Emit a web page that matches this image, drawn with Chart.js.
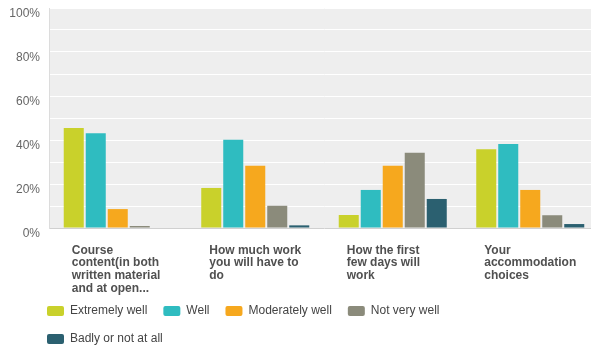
<!DOCTYPE html>
<html>
<head>
<meta charset="utf-8">
<script src="https://cdn.jsdelivr.net/npm/chart.js@4.4.1/dist/chart.umd.min.js"></script>
<style>
  html, body { margin: 0; padding: 0; background: #ffffff; overflow: hidden; }
  #wrap { width: 600px; height: 346px; }
</style>
</head>
<body>
<div id="wrap"><canvas id="chart" width="600" height="346"></canvas></div>
<script>
// Survey question categories (each entry holds the wrapped label lines)
const categories = [
  ['Course', 'content(in both', 'written material', 'and at open...'],
  ['How much work', 'you will have to', 'do'],
  ['How the first', 'few days will', 'work'],
  ['Your', 'accommodation', 'choices']
];

// Share of respondents per answer, in percent
const extremelyWell   = [45.5, 18.2, 5.9, 35.8];
const well            = [43.1, 40.1, 17.3, 38.2];
const moderatelyWell  = [8.6, 28.3, 28.3, 17.3];
const notVeryWell     = [0.9, 10.1, 34.2, 5.8];
const badlyOrNotAtAll = [0, 1.2, 13.2, 1.8];

const seriesNames = ['Extremely well', 'Well', 'Moderately well', 'Not very well', 'Badly or not at all'];
const seriesColors = ['#c9d12b', '#2fbcc0', '#f6a81e', '#8b8b7b', '#2b6070'];

// Axis labels shown on every other gridline
const yTickLabels = ['0%', '20%', '40%', '60%', '80%', '100%'];

const seriesValues = [extremelyWell, well, moderatelyWell, notVeryWell, badlyOrNotAtAll];

// Grey panel behind the plot area
const plotBackground = {
  id: 'plotBackground',
  beforeDraw(chart) {
    const { ctx, chartArea: a } = chart;
    ctx.save();
    ctx.fillStyle = '#eeeeee';
    ctx.fillRect(a.left, a.top, a.right - a.left, a.bottom - a.top);
    ctx.restore();
  }
};

// Indent the legend and let it wrap onto a second row under the labels
const legendPlacement = {
  id: 'legendPlacement',
  afterLayout(chart) {
    const lg = chart.legend;
    if (!lg) return;
    lg.left = 31;
    lg.right = 580;
    lg.top = 289;
    lg.bottom = chart.height;
    lg.width = lg.right - lg.left;
    lg.height = lg.bottom - lg.top;
  }
};

new Chart(document.getElementById('chart'), {
  type: 'bar',
  data: {
    labels: categories,
    datasets: seriesNames.map((name, i) => ({
      label: name,
      data: seriesValues[i],
      backgroundColor: seriesColors[i],
      borderWidth: 0,
      categoryPercentage: 0.8,
      barPercentage: 0.91
    }))
  },
  options: {
    responsive: false,
    animation: false,
    devicePixelRatio: 1,
    layout: { padding: { left: 8, right: 1, top: 8, bottom: 0 } },
    scales: {
      x: {
        grid: { display: false, drawTicks: false },
        border: { color: '#d0d0d0', width: 1 },
        ticks: {
          align: 'start',
          labelOffset: -46,
          padding: 16,
          autoSkip: false,
          maxRotation: 0,
          minRotation: 0,
          color: '#505050',
          font: { family: 'Liberation Sans, Arial, sans-serif', size: 12, weight: 'bold', lineHeight: 1.06 }
        },
        afterFit(scale) {
          scale.height = 80;
          scale.paddingLeft = 0;
          scale.paddingRight = 0;
        }
      },
      y: {
        min: 0,
        max: 100,
        grid: { color: '#ffffff', lineWidth: 1, drawTicks: false },
        border: { color: '#dcdcdc', width: 1 },
        ticks: {
          stepSize: 10,
          padding: 9,
          labelOffset: 6,
          color: '#666666',
          font: { family: 'Liberation Sans, Arial, sans-serif', size: 12 },
          callback: (v) => (v % 20 === 0 ? yTickLabels[v / 20] : '')
        },
        afterFit(scale) {
          scale.width = 41;
          scale.paddingTop = 0;
          scale.paddingBottom = 0;
        }
      }
    },
    plugins: {
      tooltip: { enabled: false },
      legend: {
        position: 'bottom',
        align: 'start',
        labels: {
          boxWidth: 17,
          boxHeight: 10,
          padding: 16,
          color: '#444444',
          useBorderRadius: true,
          borderRadius: 2,
          font: { family: 'Liberation Sans, Arial, sans-serif', size: 12 }
        }
      }
    }
  },
  plugins: [plotBackground, legendPlacement]
});
</script>
</body>
</html>
